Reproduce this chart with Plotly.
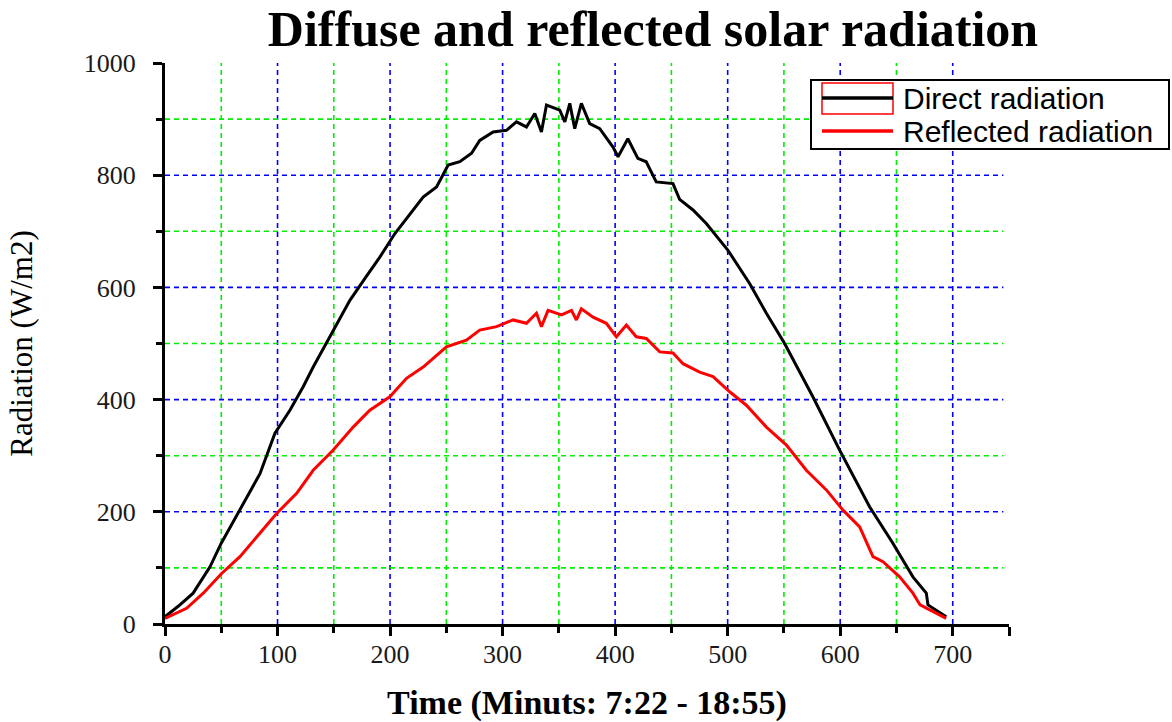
import plotly.graph_objects as go

# ---------------- data ----------------
direct_t = [0, 12, 25, 40, 50, 66.6, 84.4, 97.7, 111, 122.8, 131.7, 146.5, 164.3,
            178, 190.9, 204.3, 220.5, 229.4, 241.3, 251.6, 262, 272.4, 279.7, 291.6,
            303.4, 312.3, 321.2, 328.6, 334.5, 339, 350.8, 355.3, 359.7, 364.1,
            370, 377.4, 386.3, 398.1, 402.6, 411.3, 420.2, 427.6, 436.5, 451.4,
            457.3, 469.2, 481, 500.3, 519.5, 534.4, 550.6, 575.7, 599.5, 626.1,
            646.8, 664.6, 676.5, 678, 694.2]
direct_v = [13, 32, 55, 102, 144, 203, 268, 340, 381, 423, 458, 512, 577,
            617, 654, 696, 737, 761, 779, 818, 824, 839, 862, 877,
            880, 895, 886, 910, 877, 925, 916, 895, 928, 883,
            928, 892, 883, 850, 833, 865, 830, 824, 788, 785,
            757, 738, 714, 666, 607, 554, 500, 405, 310, 209,
            144, 84, 55, 34, 13]

refl_t = [0, 19.2, 34, 50.3, 66.6, 84.4, 99.2, 117, 131.7, 149.5, 167.2, 182,
          199.8, 214.6, 229.4, 250.1, 267.8, 279.7, 294.6, 309.3, 321.2, 330.1,
          334.5, 340.4, 352.3, 361.2, 365.6, 370, 380.4, 392.2, 401.1, 410,
          418.8, 427.7, 439.6, 451.4, 460.3, 475.1, 487, 501.8, 516.6, 534.4,
          552.2, 569.9, 587.7, 602.5, 617.3, 629.1, 638, 652.8, 664.6, 671,
          682.4, 694.2]
refl_v = [10, 28, 55, 90, 120, 162, 197, 233, 274, 310, 351, 381,
          405, 438, 458, 494, 506, 524, 530, 542, 536, 554,
          530, 559, 551, 559, 542, 562, 547, 536, 512, 533,
          512, 509, 485, 483, 464, 449, 441, 414, 390, 351,
          319, 274, 239, 203, 173, 120, 111, 84, 55, 34,
          22, 10]

series_names = ["Direct radiation", "Reflected radiation"]
series_colors = ["black", "#FF0000"]

x_major = [0, 100, 200, 300, 400, 500, 600, 700]
x_minor = [50, 150, 250, 350, 450, 550, 650]
y_major = [0, 200, 400, 600, 800, 1000]
y_minor = [100, 300, 500, 700, 900]

title_text = "Diffuse and reflected solar radiation"
x_title = "Time (Minuts: 7:22 - 18:55)"
y_title = "Radiation (W/m2)"

# ---------------- layout geometry (pixels) ----------------
W, H = 1172, 722
ML, MR, MT, MB = 165, 163, 63, 98
PW, PH = W - ML - MR, H - MT - MB


def px(xp):
    return (xp - ML) / PW


def py(yp):
    return (H - MB - yp) / PH


# ---------------- figure ----------------
fig = go.Figure()
fig.add_trace(go.Scatter(x=direct_t, y=direct_v, mode="lines", name=series_names[0],
                         line=dict(color=series_colors[0], width=3)))
fig.add_trace(go.Scatter(x=refl_t, y=refl_v, mode="lines", name=series_names[1],
                         line=dict(color=series_colors[1], width=3)))

X_MAX, Y_MAX = 750, 1000
GRID_X_END = 745
shapes = []
dash = "5px,4px"
for v in x_major[1:]:
    shapes.append(dict(type="line", xref="x", yref="y", x0=v, x1=v, y0=0, y1=Y_MAX,
                       line=dict(color="#0000FF", width=1.6, dash=dash), layer="below"))
for v in x_minor:
    shapes.append(dict(type="line", xref="x", yref="y", x0=v, x1=v, y0=0, y1=Y_MAX,
                       line=dict(color="#00EE00", width=1.6, dash=dash), layer="below"))
for v in y_major[1:-1]:
    shapes.append(dict(type="line", xref="x", yref="y", x0=0, x1=GRID_X_END, y0=v, y1=v,
                       line=dict(color="#0000FF", width=1.6, dash=dash), layer="below"))
for v in y_minor:
    shapes.append(dict(type="line", xref="x", yref="y", x0=0, x1=GRID_X_END, y0=v, y1=v,
                       line=dict(color="#00EE00", width=1.6, dash=dash), layer="below"))

# legend box (drawn manually to reproduce the original's layout)
shapes.append(dict(type="rect", xref="paper", yref="paper",
                   x0=px(811), x1=px(1169), y0=py(149), y1=py(80),
                   line=dict(color="black", width=2), fillcolor="white", layer="above"))
shapes.append(dict(type="rect", xref="paper", yref="paper",
                   x0=px(822), x1=px(893), y0=py(114), y1=py(83),
                   line=dict(color="#FF0000", width=1.5), fillcolor="rgba(0,0,0,0)", layer="above"))
legend_rows = [98, 131]
annotations = []
for name, color, row in zip(series_names, series_colors, legend_rows):
    shapes.append(dict(type="line", xref="paper", yref="paper",
                       x0=px(822), x1=px(893), y0=py(row), y1=py(row),
                       line=dict(color=color, width=3.5), layer="above"))
    annotations.append(dict(xref="paper", yref="paper", x=px(901), y=py(row),
                            xanchor="left", yanchor="middle", showarrow=False, text=name,
                            font=dict(family="Liberation Sans, Arial, sans-serif",
                                      size=30, color="black")))

tick_font = dict(family="Liberation Serif, Times New Roman, serif", size=26, color="#1a1a1a")

fig.update_layout(
    width=W, height=H,
    paper_bgcolor="white", plot_bgcolor="white",
    margin=dict(l=ML, r=MR, t=MT, b=MB, autoexpand=False),
    title=dict(text="<b>" + title_text + "</b>", x=653 / W, xanchor="center",
               y=1 - 28 / H, yanchor="middle",
               font=dict(family="Liberation Serif, Times New Roman, serif", size=50, color="black")),
    shapes=shapes,
    annotations=annotations,
    showlegend=False,
    xaxis=dict(range=[0, X_MAX], showgrid=False, zeroline=False,
               showline=True, linecolor="black", linewidth=3,
               tickmode="array", tickvals=x_major + [X_MAX],
               ticktext=[str(v) for v in x_major] + [""],
               ticks="outside", ticklen=9, tickwidth=3, tickcolor="black",
               ticklabelstandoff=-4,
               minor=dict(tickmode="array", tickvals=x_minor, ticks="outside",
                          ticklen=6, tickwidth=3, tickcolor="black", showgrid=False),
               tickfont=tick_font,
               title=dict(text="<b>" + x_title + "</b>", standoff=40,
                          font=dict(family="Liberation Serif, Times New Roman, serif",
                                    size=34, color="black"))),
    yaxis=dict(range=[0, Y_MAX], showgrid=False, zeroline=False,
               showline=True, linecolor="black", linewidth=3,
               tickmode="array", tickvals=y_major, ticktext=[str(v) for v in y_major],
               ticks="outside", ticklen=9, tickwidth=3, tickcolor="black",
               ticklabelstandoff=12,
               minor=dict(tickmode="array", tickvals=y_minor, ticks="outside",
                          ticklen=6, tickwidth=3, tickcolor="black", showgrid=False),
               tickfont=tick_font,
               title=dict(text=y_title, standoff=42,
                          font=dict(family="Liberation Serif, Times New Roman, serif",
                                    size=31, color="black"))),
)

fig.write_html("out.html", config={"displayModeBar": False},
               post_script="document.body.style.margin='0px';")
